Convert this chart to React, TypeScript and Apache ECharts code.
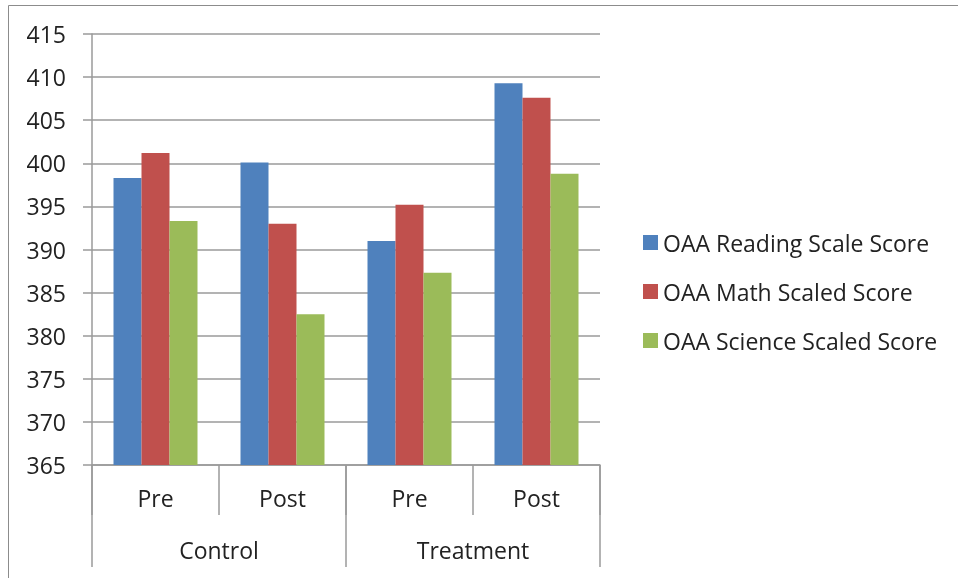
import React, { useEffect, useRef } from "react";
import * as echarts from "echarts";

const subCategories = ["Pre", "Post", "Pre", "Post"];
const groupCategories = ["Control", "Treatment"];
const seriesNames = ["OAA Reading Scale Score", "OAA Math Scaled Score", "OAA Science Scaled Score"];
const readingValues = [398.3, 400.1, 391.0, 409.3];
const mathValues = [401.2, 393.0, 395.2, 407.6];
const scienceValues = [393.3, 382.5, 387.3, 398.8];
const colors = ["#4F81BD", "#C0504D", "#9BBB59"];

const FONT = "Open Sans";
const FS = 23;
const GREY = "#9a9a9a";

export default function App() {
  const ref = useRef<HTMLDivElement>(null);
  useEffect(() => {
    if (!ref.current) return;
    const chart = echarts.init(ref.current, undefined, { renderer: "svg" });
    const values = [readingValues, mathValues, scienceValues];
    chart.setOption({
      animation: false,
      textStyle: { fontFamily: FONT },
      graphic: [
        {
          type: "rect",
          shape: { x: 8.5, y: 5.5, width: 960, height: 590 },
          style: { fill: "none", stroke: "#8c8c8c", lineWidth: 1 },
        },
      ],
      grid: { left: 92, right: 358, top: 34, bottom: 113 },
      legend: {
        orient: "vertical",
        left: 643,
        top: 231,
        padding: 0,
        itemWidth: 15,
        itemHeight: 15,
        itemGap: 26,
        icon: "rect",
        textStyle: { fontFamily: FONT, fontSize: FS, color: "#222" },
        data: seriesNames,
      },
      xAxis: [
        {
          type: "category",
          data: subCategories,
          position: "bottom",
          axisLine: { show: true, lineStyle: { color: GREY, width: 1.5 } },
          axisTick: { show: true, interval: 0, alignWithLabel: false, length: 50, lineStyle: { color: GREY, width: 1.5 } },
          axisLabel: { interval: 0, margin: 21, fontSize: FS, color: "#222", fontFamily: FONT },
        },
        {
          type: "category",
          data: groupCategories,
          position: "bottom",
          axisLine: { show: false },
          axisTick: { show: true, interval: 0, alignWithLabel: false, length: 102, lineStyle: { color: GREY, width: 1.5 } },
          axisLabel: { interval: 0, margin: 73, fontSize: FS, color: "#222", fontFamily: FONT },
        },
      ],
      yAxis: {
        type: "value",
        min: 365,
        max: 415,
        interval: 5,
        axisLine: { show: true, lineStyle: { color: GREY, width: 1.5 } },
        axisTick: { show: true, length: 9, lineStyle: { color: GREY, width: 1.5 } },
        axisLabel: { margin: 26, fontSize: FS, color: "#222", fontFamily: FONT },
        splitLine: { show: true, lineStyle: { color: GREY, width: 1.5 } },
      },
      series: seriesNames.map((name, i) => ({
        name,
        type: "bar",
        xAxisIndex: 0,
        data: values[i],
        barWidth: 28,
        barGap: "0%",
        itemStyle: { color: colors[i] },
      })),
    });
    return () => chart.dispose();
  }, []);
  return <div ref={ref} style={{ position: "fixed", left: 0, top: 0, width: 958, height: 578 }} />;
}
